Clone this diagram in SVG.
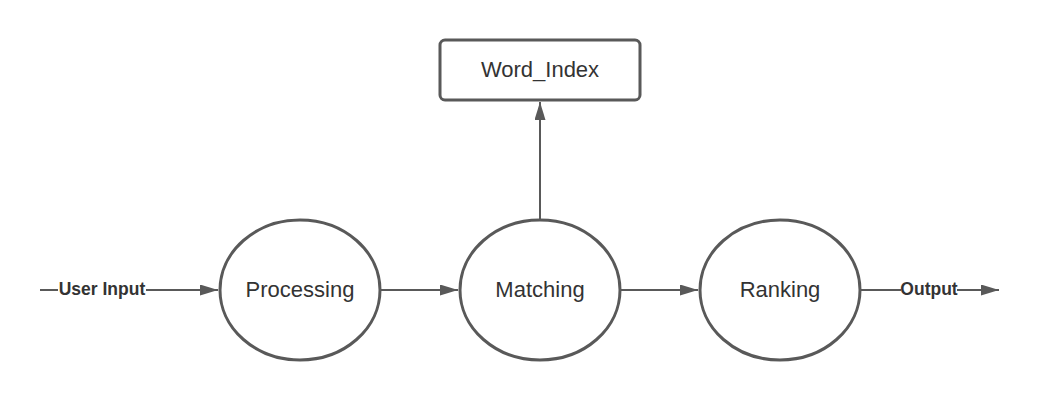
<svg xmlns="http://www.w3.org/2000/svg" width="1040" height="400" viewBox="0 0 1040 400">
<defs>
<marker id="arr" markerWidth="18" markerHeight="11" refX="18" refY="5.5" orient="auto" markerUnits="userSpaceOnUse" viewBox="0 0 18 11">
<path d="M0,0 L18,5.5 L0,11 z" fill="#595959"/>
</marker>
<style>
.node{fill:#fff;stroke:#595959;stroke-width:3}
.lbl{font-family:"Liberation Sans",Arial,sans-serif;font-size:22px;fill:#333;text-anchor:middle}
.edge{stroke:#595959;stroke-width:2;fill:none}
.el{font-family:"Liberation Sans",Arial,sans-serif;font-size:17.5px;font-weight:bold;fill:#333;text-anchor:middle}
</style>
</defs>
<rect width="1040" height="400" fill="#fff"/>
<g id="connectors">
<path class="edge" d="M40,290 H58"/>
<path class="edge" d="M146,290 H218" marker-end="url(#arr)"/>
<path class="edge" d="M381,290 H458" marker-end="url(#arr)"/>
<path class="edge" d="M621,290 H698" marker-end="url(#arr)"/>
<path class="edge" d="M861,290 H901"/>
<path class="edge" d="M957,290 H999" marker-end="url(#arr)"/>
<path class="edge" d="M540,220 V102" marker-end="url(#arr)"/>
<text class="el" x="102" y="295">User Input</text>
<text class="el" x="929" y="295">Output</text>
</g>
<g id="processing">
<ellipse class="node" cx="300" cy="290" rx="80" ry="70"/>
<text class="lbl" x="300" y="297">Processing</text>
</g>
<g id="matching">
<ellipse class="node" cx="540" cy="290" rx="80" ry="70"/>
<text class="lbl" x="540" y="297">Matching</text>
</g>
<g id="ranking">
<ellipse class="node" cx="780" cy="290" rx="80" ry="70"/>
<text class="lbl" x="780" y="297">Ranking</text>
</g>
<g id="word_index">
<rect class="node" x="440" y="40" width="200" height="60" rx="5"/>
<text class="lbl" x="540" y="77">Word_Index</text>
</g>
</svg>
